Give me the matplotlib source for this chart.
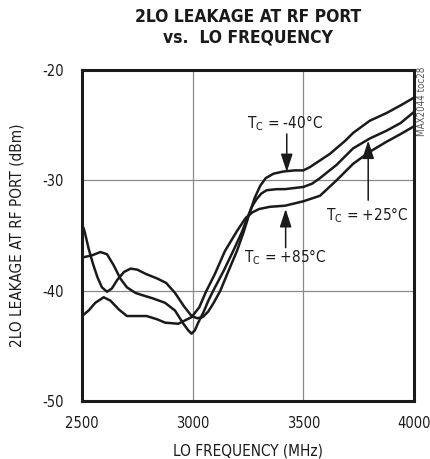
import matplotlib
matplotlib.use('Agg')
import matplotlib.pyplot as plt
from matplotlib import font_manager
import numpy as np

# 데이터
freq_m40 = [2500, 2510, 2530, 2550, 2570, 2590, 2613, 2635, 2660, 2690, 2720, 2750, 2790, 2840,
            2880, 2920, 2960, 2995, 3020, 3045, 3070, 3095, 3125, 3160, 3200, 3230, 3255, 3280,
            3305, 3330, 3365, 3410, 3460, 3500, 3530, 3575, 3620, 3690, 3725, 3800, 3876, 3940, 4000]
leak_m40 = [-34.0, -34.5, -36.2, -37.6, -38.8, -39.7, -40.1, -39.8, -39.0, -38.3, -38.0, -38.1, -38.5, -38.9,
            -39.3, -40.2, -41.4, -42.3, -42.5, -42.4, -41.9, -41.1, -40.0, -38.3, -36.4, -34.7, -33.1, -31.6,
            -30.5, -29.8, -29.4, -29.2, -29.1, -29.1, -28.8, -28.2, -27.6, -26.4, -25.7, -24.6, -23.9, -23.2, -22.5]

freq_p25 = [2500, 2545, 2583, 2613, 2643, 2673, 2703, 2741, 2771, 2820, 2875, 2920, 2958, 2980, 2995,
            3010, 3025, 3050, 3071, 3093, 3140, 3183, 3220, 3251, 3270, 3289, 3310, 3334, 3380, 3417,
            3500, 3540, 3575, 3650, 3725, 3801, 3876, 3940, 4000]
leak_p25 = [-37.0, -36.8, -36.5, -36.7, -37.7, -38.9, -39.7, -40.2, -40.4, -40.7, -41.1, -41.8, -43.0, -43.6, -43.9,
            -43.6, -42.9, -41.9, -40.9, -40.0, -38.2, -36.4, -34.8, -33.2, -32.3, -31.7, -31.2, -30.9, -30.8, -30.8,
            -30.6, -30.3, -29.8, -28.6, -27.1, -26.2, -25.5, -24.8, -23.8]

freq_p85 = [2500, 2530, 2560, 2598, 2628, 2666, 2703, 2741, 2792, 2840, 2875, 2935, 2965, 2995, 3030,
            3060, 3100, 3146, 3200, 3240, 3270, 3300, 3349, 3417, 3500, 3575, 3650, 3725, 3801, 3876, 3940, 4000]
leak_p85 = [-42.3, -41.8, -41.1, -40.6, -40.9, -41.7, -42.3, -42.3, -42.3, -42.6, -42.9, -43.0, -42.7, -42.4, -41.5,
            -40.1, -38.5, -36.4, -34.6, -33.4, -32.9, -32.6, -32.4, -32.3, -31.9, -31.4, -30.0, -28.5, -27.4, -26.5, -25.8, -25.1]

x_ticks = [2500, 3000, 3500, 4000]
y_ticks = [-50, -40, -30, -20]

# (text, text pos, arrow tail, arrow tip)
labels = [
    ('T$_\\mathrm{C}$ = -40°C', (3418, -24.8), (3425, -25.8), (3425, -29.25)),
    ('T$_\\mathrm{C}$ = +85°C', (3418, -37.0), (3420, -36.1), (3420, -32.6)),
    ('T$_\\mathrm{C}$ = +25°C', (3790, -33.2), (3793, -31.8), (3793, -26.4)),
]

# 좁은 글꼴 찾기
fam = 'DejaVu Sans'
stretch = 'normal'
cond = False
for f in font_manager.fontManager.ttflist:
    if f.name == 'Liberation Sans Narrow':
        fam, cond = 'Liberation Sans Narrow', True
        break
if not cond:
    for f in font_manager.fontManager.ttflist:
        if f.name == 'DejaVu Sans' and 'Condensed' in f.fname:
            stretch, cond = 'condensed', True
            break

plt.rcParams['font.family'] = [fam, 'DejaVu Sans']
plt.rcParams['font.stretch'] = stretch
plt.rcParams['axes.unicode_minus'] = False
plt.rcParams['mathtext.fontset'] = 'custom'
plt.rcParams['mathtext.rm'] = fam
fs = 11 if cond else 10
tick_fs = 10.5 if cond else 9.5

fig = plt.figure(figsize=(4.31, 4.59), dpi=100)
ax = fig.add_axes([0.1903, 0.1264, 0.7703, 0.7211])

for xs, ys in [(freq_m40, leak_m40), (freq_p25, leak_p25), (freq_p85, leak_p85)]:
    ax.plot(xs, ys, color='#1a1a1a', lw=1.8, solid_joinstyle='round', solid_capstyle='round', zorder=3)

ax.set_xlim(2500, 4000)
ax.set_ylim(-50, -20)
ax.set_xticks(x_ticks)
ax.set_yticks(y_ticks)
ax.grid(True, color='#8a8a8a', lw=0.9)
ax.set_axisbelow(True)
ax.tick_params(axis='x', length=0, labelsize=tick_fs, pad=11, colors='#1a1a1a')
ax.tick_params(axis='y', length=0, labelsize=tick_fs, pad=13, colors='#1a1a1a')
for s in ax.spines.values():
    s.set_linewidth(2.2)
    s.set_color('#1a1a1a')

ax.set_xlabel('LO FREQUENCY (MHz)', fontsize=fs, color='#1a1a1a', labelpad=9)
ax.set_ylabel('2LO LEAKAGE AT RF PORT (dBm)', fontsize=fs, color='#1a1a1a', labelpad=13)

for txt, tpos, tail, tip in labels:
    ax.text(tpos[0], tpos[1], txt, fontsize=fs, ha='center', va='center', color='#1a1a1a', zorder=4)
    ax.annotate('', xy=tip, xytext=tail,
                arrowprops=dict(arrowstyle='-|>,head_length=1.1,head_width=0.36', mutation_scale=10,
                                color='#1a1a1a', lw=1.1, shrinkA=0, shrinkB=0), zorder=4)

tfs = 12.5 if cond else 11
fig.text(0.5755, 0.962, '2LO LEAKAGE AT RF PORT', ha='center', va='center',
         fontsize=tfs, fontweight='bold', color='#1a1a1a')
fig.text(0.5755, 0.918, 'vs.  LO FREQUENCY', ha='center', va='center',
         fontsize=tfs, fontweight='bold', color='#1a1a1a')
fig.text(0.98, 0.78, 'MAX2044 toc28', rotation=90, ha='center', va='center',
         fontsize=7, color='#555555')

fig.savefig('out.png', dpi=100)
